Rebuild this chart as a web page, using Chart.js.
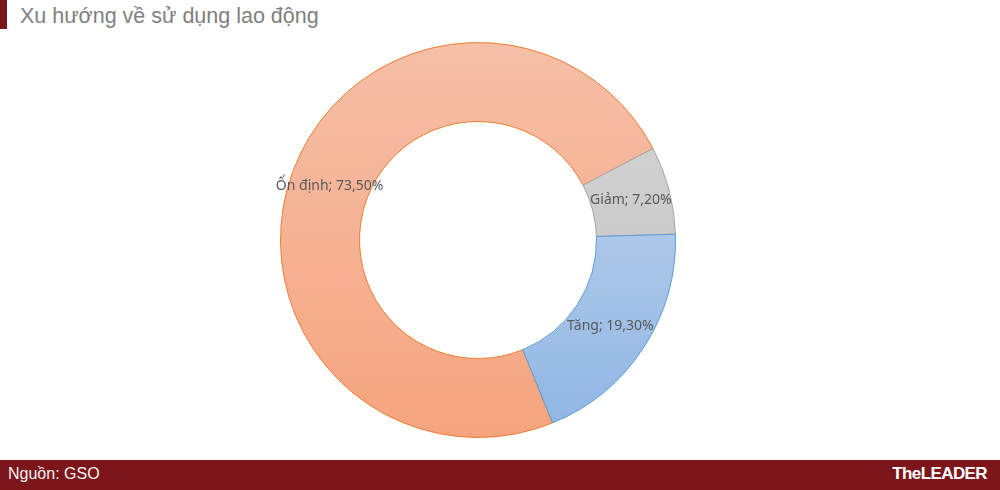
<!DOCTYPE html>
<html><head><meta charset="utf-8">
<script src="https://cdn.jsdelivr.net/npm/chart.js@4.4.1/dist/chart.umd.min.js"></script>
<style>
html,body{margin:0;padding:0;background:#fff;width:1000px;height:490px;overflow:hidden;position:relative;font-family:"Liberation Sans",Arial,sans-serif;}
#bar{position:absolute;left:0;top:0;width:7px;height:29px;background:#7d161b;}
#title{position:absolute;left:20px;top:4px;font-size:21.5px;color:#808080;white-space:nowrap;}
#footer{position:absolute;left:0;top:460px;width:1000px;height:30px;background:#7d161b;}
#src{position:absolute;left:8px;top:5px;font-size:16px;color:#f2f2f2;}
#logo{position:absolute;right:13px;top:4px;font-size:17px;font-weight:bold;color:#fff;letter-spacing:-0.6px;}
#wrap{position:absolute;left:180px;top:42px;width:596px;height:396px;}
</style></head><body>
<div id="bar"></div>
<div id="title">Xu hướng về sử dụng lao động</div>
<div id="wrap"><canvas id="c"></canvas></div>
<div id="footer"><div id="src">Nguồn: GSO</div><div id="logo">TheLEADER</div></div>
<script>
const categories = ["Ổn định", "Giảm", "Tăng"];
const values = [73.5, 7.2, 19.3];
const gradTop = ["#f6bfa7", "#d8d8d8", "#c6d9f0"];
const gradBottom = ["#f5a47f", "#bdbdbd", "#90b5e3"];
const borders = ["#ed7d31", "#a5a5a5", "#5b9bd5"];

function fill(ctx){
  const chart = ctx.chart; const a = chart.chartArea;
  if(!a) return gradBottom[ctx.dataIndex];
  const g = chart.ctx.createLinearGradient(0, a.top, 0, a.bottom);
  g.addColorStop(0, gradTop[ctx.dataIndex]);
  g.addColorStop(1, gradBottom[ctx.dataIndex]);
  return g;
}

const labelPlugin = {
  id: 'sliceLabels',
  afterDatasetsDraw(chart){
    const ctx = chart.ctx;
    const meta = chart.getDatasetMeta(0);
    ctx.save();
    ctx.font = '14px "Noto Sans", sans-serif';
    ctx.fillStyle = '#595959';
    ctx.textAlign = 'center';
    ctx.textBaseline = 'middle';
    meta.data.forEach((arc, i) => {
      const p = arc.tooltipPosition();
      const txt = categories[i] + '; ' + values[i].toFixed(2).replace('.', ',') + '%';
      ctx.fillText(txt, p.x, p.y);
    });
    ctx.restore();
  }
};

new Chart(document.getElementById('c'), {
  type: 'doughnut',
  data: {
    labels: categories,
    datasets: [{
      data: values,
      backgroundColor: fill,
      borderColor: borders,
      borderWidth: 1
    }]
  },
  options: {
    responsive: true,
    maintainAspectRatio: false,
    animation: false,
    rotation: 157.8,
    cutout: '60%',
    layout: { padding: { left: 100, right: 100, top: 0, bottom: 0 } },
    plugins: { legend: { display: false }, tooltip: { enabled: false } }
  },
  plugins: [labelPlugin]
});
</script>
</body></html>
